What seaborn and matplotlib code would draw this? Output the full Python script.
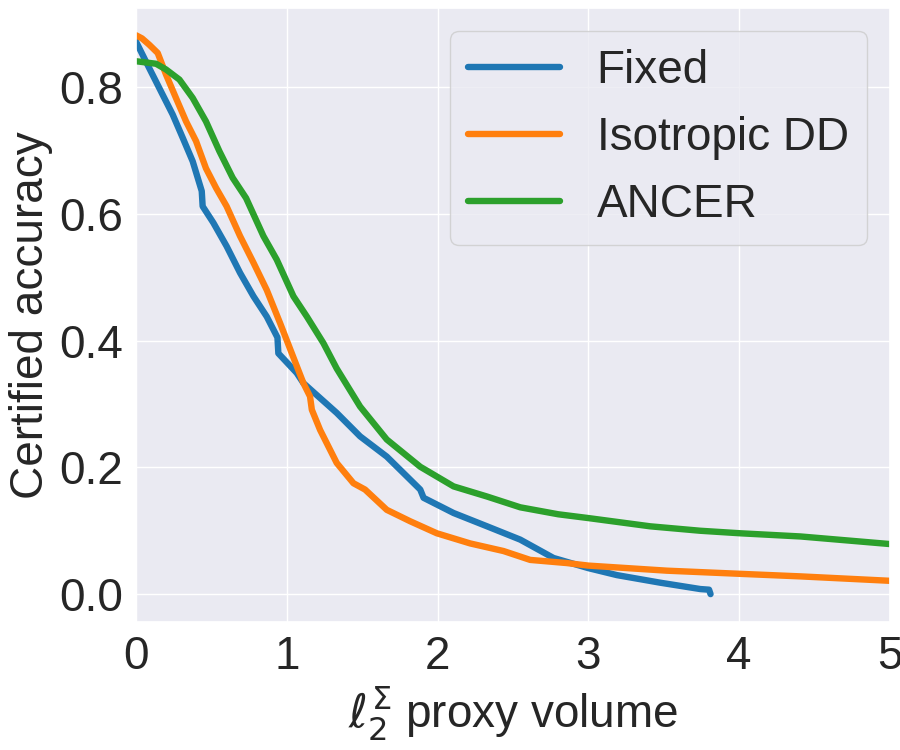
import numpy as np
import pandas as pd
import seaborn as sns
import matplotlib
matplotlib.use("Agg")
import matplotlib.pyplot as plt

# curves
fixed_x = [0.0, 0.088, 0.177, 0.243, 0.31, 0.376, 0.436, 0.442, 0.513, 0.601, 0.690, 0.779,
           0.867, 0.938, 0.944, 1.066, 1.11, 1.331, 1.486, 1.663, 1.885, 1.907, 2.106, 2.328,
           2.548, 2.769, 3.0, 3.189, 3.477, 3.742, 3.80, 3.81]
fixed_y = [0.872, 0.830, 0.788, 0.757, 0.720, 0.683, 0.636, 0.612, 0.586, 0.549, 0.507, 0.470,
           0.438, 0.405, 0.380, 0.349, 0.333, 0.286, 0.249, 0.217, 0.165, 0.152, 0.128, 0.107,
           0.086, 0.057, 0.041, 0.030, 0.018, 0.008, 0.007, 0.0]

iso_x = [0.0, 0.04, 0.088, 0.144, 0.199, 0.265, 0.332, 0.398, 0.464, 0.531, 0.601, 0.690, 0.779,
         0.867, 0.955, 1.11, 1.154, 1.166, 1.221, 1.331, 1.442, 1.519, 1.663, 1.818, 1.995,
         2.216, 2.437, 2.614, 2.858, 3.0, 3.52, 4.008, 4.406, 5.0]
iso_y = [0.882, 0.877, 0.867, 0.854, 0.820, 0.783, 0.746, 0.715, 0.672, 0.641, 0.612, 0.565,
         0.523, 0.480, 0.428, 0.333, 0.312, 0.291, 0.259, 0.207, 0.175, 0.165, 0.133, 0.115,
         0.096, 0.080, 0.068, 0.054, 0.049, 0.045, 0.037, 0.032, 0.028, 0.021]

ancer_x = [0.0, 0.133, 0.199, 0.288, 0.376, 0.464, 0.553, 0.641, 0.730, 0.845, 0.933, 1.044,
           1.133, 1.243, 1.331, 1.486, 1.663, 1.885, 2.106, 2.328, 2.548, 2.8, 3.0, 3.41,
           3.742, 4.008, 4.406, 5.0]
ancer_y = [0.841, 0.837, 0.828, 0.812, 0.783, 0.746, 0.699, 0.657, 0.625, 0.565, 0.528, 0.470,
           0.438, 0.396, 0.356, 0.296, 0.244, 0.201, 0.170, 0.154, 0.137, 0.126, 0.120, 0.107,
           0.100, 0.096, 0.091, 0.079]

methods = ["Fixed", "Isotropic DD", "ANCER"]
colors = ["#1f77b4", "#ff7f0e", "#2ca02c"]


def make_plot():
    sns.set_theme(style="darkgrid")
    plt.rcParams["font.family"] = ["Liberation Sans", "DejaVu Sans"]

    df = pd.concat([
        pd.DataFrame({"x": fixed_x, "y": fixed_y, "method": methods[0]}),
        pd.DataFrame({"x": iso_x, "y": iso_y, "method": methods[1]}),
        pd.DataFrame({"x": ancer_x, "y": ancer_y, "method": methods[2]}),
    ], ignore_index=True)

    fig, ax = plt.subplots(figsize=(9, 7.5), dpi=100)
    fig.subplots_adjust(left=136 / 900, right=890 / 900, top=1 - 8 / 750, bottom=1 - 622 / 750)
    sns.lineplot(data=df, x="x", y="y", hue="method", hue_order=methods, palette=colors,
                 estimator=None, sort=False, linewidth=4.6, ax=ax)

    ax.set_xlim(0, 5)
    ax.set_ylim(-0.044, 0.925)
    ax.set_xticks([0, 1, 2, 3, 4, 5])
    ax.set_yticks([0.0, 0.2, 0.4, 0.6, 0.8])
    ax.tick_params(labelsize=33)
    ax.set_xlabel(r"$\ell_2^\Sigma$ proxy volume", fontsize=33)
    ax.set_ylabel("Certified accuracy", fontsize=33)
    leg = ax.legend(loc="upper right", fontsize=33)
    for line in leg.get_lines():
        line.set_linewidth(4.6)

    fig.savefig("out.png", dpi=100)


if __name__ == "__main__":
    make_plot()
